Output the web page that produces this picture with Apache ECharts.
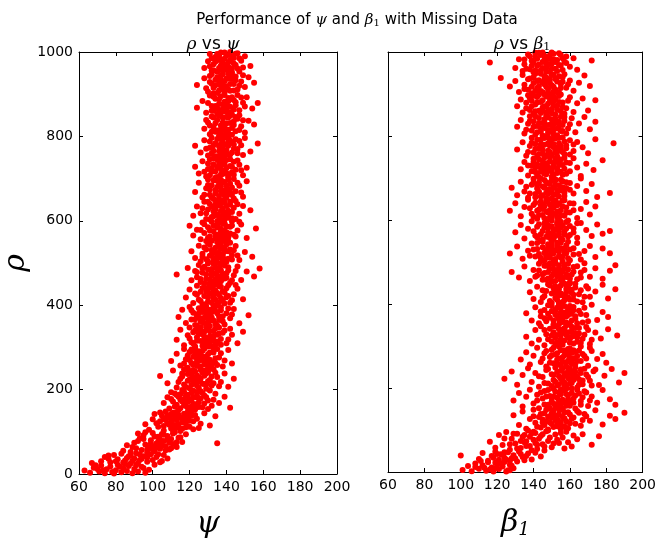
<!DOCTYPE html>
<html>
<head>
<meta charset="utf-8">
<script src="https://cdn.jsdelivr.net/npm/echarts@6/dist/echarts.min.js"></script>
<style>html,body{margin:0;padding:0;background:#fff}#c{width:659px;height:544px}</style>
</head>
<body>
<div id="c"></div>
<script>
// tick labels
var xTicks = [60, 80, 100, 120, 140, 160, 180, 200];
var yTicks = [0, 200, 400, 600, 800, 1000];

// left panel: [psi, rho] — outer spread of the cloud
var psiPoints = [
[63,8],[66,3],[68,15],[71,6],[72,20],[74,2],[75,11],[77,18],[78,5],[80,9],[81,22],[83,4],[84,14],[86,7],[87,19],[89,2],[90,12],[92,6],[94,17],[96,3],[98,10],[70,12],[79,1],[85,24],[91,21],
[72,30],[74,40],[77,28],[79,45],[81,35],[83,48],[84,27],[86,38],[88,44],[89,31],[91,49],[92,26],[94,36],[95,42],[97,29],[99,47],[100,33],[102,40],[104,28],[106,45],[108,37],[85,32],[93,46],[76,36],
[84,55],[86,68],[88,52],[90,74],[91,61],[93,85],[94,57],[95,92],[96,70],[98,63],[99,80],[100,97],[101,54],[102,72],[103,88],[104,60],[105,95],[106,78],[107,66],[108,90],[109,58],[110,83],[111,71],[112,99],[113,64],[115,87],[116,76],[118,94],[97,58],[104,82],[135,73],[92,96],[100,65],
[96,118],[98,105],[100,130],[101,142],[103,112],[104,125],[105,138],[106,103],[107,148],[108,120],[109,133],[110,108],[111,145],[112,116],[113,128],[114,140],[115,102],[116,122],[117,135],[118,111],[119,147],[120,126],[121,138],[122,106],[124,131],[126,119],[128,144],[131,115],[134,137],[109,117],[112,137],[106,131],[114,110],[118,127],
[106,168],[108,182],[109,155],[110,194],[111,172],[112,160],[113,187],[114,151],[115,176],[116,199],[117,163],[118,185],[119,157],[120,178],[121,192],[122,166],[123,153],[124,181],[125,170],[126,196],[127,158],[128,186],[130,174],[132,162],[134,190],[136,168],[139,183],[142,157],[119,171],[115,189],[121,160],[117,177],[124,194],
[104,232],[108,215],[111,245],[113,205],[115,226],[116,238],[117,212],[118,249],[119,221],[120,203],[121,236],[122,217],[123,243],[124,209],[125,229],[126,247],[127,214],[128,233],[129,202],[130,241],[131,223],[132,210],[133,248],[135,230],[137,218],[139,238],[141,207],[144,226],[122,228],[125,219],[127,240],[120,244],[129,212],
[110,268],[113,285],[115,257],[117,296],[118,272],[119,252],[120,289],[121,263],[122,278],[123,299],[124,256],[125,283],[126,270],[127,292],[128,260],[129,277],[130,251],[131,288],[132,265],[133,297],[134,274],[135,258],[137,286],[139,269],[141,294],[143,262],[126,282],[128,266],[124,273],[131,259],[122,293],
[113,318],[115,342],[117,305],[119,329],[120,347],[121,312],[122,336],[123,302],[124,324],[125,344],[126,315],[127,331],[128,308],[129,349],[130,321],[131,338],[132,303],[133,327],[134,345],[135,314],[136,333],[137,306],[139,340],[141,319],[143,330],[146,310],[149,337],[128,326],[131,311],[126,341],[133,317],
[114,372],[116,389],[118,358],[120,396],[121,366],[122,382],[123,353],[124,375],[125,393],[126,361],[127,384],[128,370],[129,398],[130,356],[131,379],[132,390],[133,364],[134,386],[135,352],[136,373],[137,395],[138,362],[140,381],[142,369],[144,391],[147,357],[152,376],[130,368],[132,383],[127,360],[134,397],
[118,418],[120,437],[122,405],[123,428],[124,446],[125,413],[126,432],[127,401],[128,422],[129,441],[130,409],[131,427],[132,448],[133,416],[134,435],[135,403],[136,424],[137,444],[138,411],[139,430],[140,419],[141,447],[142,406],[144,426],[146,439],[149,414],[133,421],[131,442],[136,407],[134,449],
[113,473],[119,488],[121,459],[123,481],[124,466],[125,495],[126,455],[127,477],[128,491],[129,462],[130,484],[131,452],[132,470],[133,498],[134,461],[135,479],[136,489],[137,457],[138,474],[139,494],[140,465],[141,483],[142,453],[144,471],[146,492],[148,460],[151,480],[155,468],[158,487],[135,464],[137,496],[132,486],
[121,528],[123,512],[125,541],[126,504],[127,522],[128,537],[129,509],[130,546],[131,517],[132,531],[133,503],[134,524],[135,549],[136,513],[137,535],[138,506],[139,527],[140,544],[141,510],[142,532],[143,519],[145,540],[147,507],[150,526],[154,515],[136,538],[138,520],[134,508],
[120,588],[122,565],[124,579],[126,556],[127,596],[128,571],[129,552],[130,585],[131,563],[132,598],[133,575],[134,558],[135,590],[136,568],[137,581],[138,553],[139,594],[140,573],[141,561],[142,586],[143,599],[144,567],[146,577],[148,591],[151,559],[156,582],[138,566],[136,595],[140,555],
[122,612],[124,634],[126,618],[128,645],[129,604],[130,627],[131,640],[132,609],[133,622],[134,648],[135,615],[136,636],[137,602],[138,629],[139,643],[140,611],[141,624],[142,638],[143,606],[144,631],[145,647],[147,617],[149,635],[153,625],[139,620],[137,641],[141,607],
[123,668],[125,690],[127,655],[129,677],[130,698],[131,662],[132,684],[133,652],[134,673],[135,695],[136,659],[137,681],[138,666],[139,692],[140,654],[141,675],[142,688],[143,661],[144,699],[145,670],[147,683],[149,657],[151,694],[139,672],[137,697],[141,663],
[123,728],[125,712],[127,741],[129,705],[130,723],[131,746],[132,716],[133,734],[134,702],[135,727],[136,749],[137,710],[138,738],[139,719],[140,744],[141,707],[142,730],[143,715],[144,740],[145,721],[147,733],[149,708],[151,726],[138,747],[140,713],[136,732],
[123,778],[126,762],[128,791],[130,755],[131,773],[132,797],[133,766],[134,784],[135,752],[136,776],[137,794],[138,759],[139,781],[140,768],[141,799],[142,757],[143,786],[144,771],[145,793],[146,760],[148,779],[150,796],[153,764],[157,783],[139,754],[141,789],
[128,818],[130,833],[131,805],[132,847],[133,822],[134,811],[135,839],[136,802],[137,826],[138,844],[139,815],[140,831],[141,807],[142,849],[143,820],[144,836],[145,812],[146,842],[148,824],[150,809],[152,837],[155,828],[139,803],[141,845],
[124,868],[127,884],[129,856],[131,897],[132,872],[133,861],[134,889],[135,853],[136,877],[137,895],[138,865],[139,882],[140,858],[141,891],[142,870],[143,852],[144,886],[145,874],[146,898],[147,862],[149,880],[151,893],[154,866],[157,879],[140,875],[136,862],
[124,922],[128,938],[130,906],[131,929],[132,947],[133,915],[134,934],[135,903],[136,926],[137,944],[138,912],[139,931],[140,919],[141,949],[142,908],[143,936],[144,924],[145,942],[146,911],[148,930],[150,917],[152,940],[155,927],[139,905],[137,933],
[128,962],[130,978],[131,995],[132,956],[133,971],[134,988],[135,953],[136,981],[137,999],[138,965],[139,984],[140,958],[141,976],[142,993],[143,961],[144,986],[145,969],[146,997],[147,954],[148,979],[150,990],[153,967],[138,974],[141,959],[136,992]
];

// left panel: [psi, rho] — dense core of the cloud
var psiCore = [
[67,26],[73,9],[76,44],[82,17],[88,25],[93,33],[95,14],[97,39],[101,22],[103,47],[105,31],[87,42],[80,30],[69,21],[90,37],
[89,64],[92,78],[95,83],[97,51],[99,72],[101,89],[102,62],[103,77],[105,68],[106,93],[107,56],[108,81],[110,61],[111,96],[113,75],[114,86],[96,99],[100,58],[104,70],[109,74],
[102,120],[104,146],[106,114],[107,128],[108,139],[110,124],[111,103],[112,131],[113,147],[114,118],[115,134],[116,107],[117,143],[118,121],[119,136],[120,112],[121,149],[122,125],[123,140],[125,109],[110,142],[113,110],[116,128],
[110,178],[112,191],[113,164],[114,183],[115,156],[116,172],[117,195],[118,161],[119,188],[120,152],[121,174],[122,197],[123,165],[124,186],[125,159],[126,179],[127,192],[128,167],[129,182],[130,154],[131,198],[133,176],[118,169],[122,182],
[114,218],[116,231],[117,248],[118,206],[119,237],[120,224],[121,211],[122,246],[123,219],[124,234],[125,204],[126,226],[127,244],[128,213],[129,238],[130,220],[131,249],[132,231],[133,215],[134,240],[136,208],[124,227],[128,245],
[117,262],[119,281],[120,270],[121,295],[122,258],[123,286],[124,266],[125,291],[126,254],[127,279],[128,297],[129,264],[130,284],[131,271],[132,253],[133,288],[134,263],[135,296],[136,276],[138,255],[128,275],[125,268],
[120,321],[122,309],[123,340],[124,316],[125,332],[126,348],[127,304],[128,337],[129,313],[130,345],[131,326],[132,317],[133,339],[134,307],[135,330],[136,347],[137,320],[138,335],[140,310],[142,344],[130,302],[128,319],
[121,388],[123,367],[124,352],[125,381],[126,369],[127,394],[128,358],[129,377],[130,390],[131,363],[132,371],[133,399],[134,356],[135,381],[136,365],[137,388],[138,374],[139,354],[141,392],[143,378],[131,351],[129,385],
[124,425],[126,410],[127,441],[128,402],[129,432],[130,418],[131,449],[132,406],[133,437],[134,413],[135,429],[136,445],[137,417],[138,433],[139,404],[140,440],[141,422],[143,412],[145,448],[133,429],[130,437],
[124,478],[126,462],[127,487],[128,452],[129,473],[130,499],[131,461],[132,478],[133,456],[134,490],[135,470],[136,457],[137,483],[138,497],[139,463],[140,476],[141,490],[143,459],[145,481],[134,476],[137,468],
[127,515],[129,532],[130,504],[131,543],[132,521],[133,511],[134,536],[135,502],[136,525],[137,546],[138,514],[139,537],[140,503],[141,528],[142,548],[143,508],[144,530],[146,518],[135,518],[139,509],
[126,578],[128,592],[130,560],[131,577],[132,553],[133,588],[134,567],[135,599],[136,558],[137,574],[138,593],[139,562],[140,587],[141,552],[142,570],[143,589],[145,563],[147,598],[139,577],[135,584],
[127,630],[129,618],[130,645],[131,603],[132,633],[133,611],[134,627],[135,643],[136,608],[137,623],[138,648],[139,603],[140,635],[141,616],[142,645],[143,621],[145,604],[146,639],[138,614],[134,638],
[128,662],[130,685],[131,674],[132,656],[133,696],[134,665],[135,680],[136,651],[137,670],[138,691],[139,660],[140,683],[141,697],[142,668],[143,679],[144,653],[146,690],[148,667],[136,686],[140,664],
[128,716],[130,736],[131,708],[132,725],[133,748],[134,717],[135,704],[136,740],[137,722],[138,711],[139,734],[140,725],[141,703],[142,746],[143,728],[144,709],[146,743],[148,720],[137,731],[135,745],
[129,771],[131,788],[132,760],[133,779],[134,753],[135,794],[136,765],[137,782],[138,770],[139,798],[140,757],[141,778],[142,790],[143,762],[144,781],[146,770],[147,789],[149,756],[138,786],[136,752],
[129,839],[131,826],[132,811],[133,845],[134,831],[135,814],[136,849],[137,808],[138,833],[139,822],[140,846],[141,816],[142,832],[143,804],[144,827],[145,846],[147,815],[149,838],[137,817],[140,810],
[130,879],[132,861],[133,894],[134,872],[135,866],[136,888],[137,855],[138,876],[139,898],[140,866],[141,883],[142,857],[143,893],[144,864],[145,881],[147,850],[148,892],[150,871],[139,860],[142,888],
[129,914],[131,943],[132,925],[133,902],[134,921],[135,940],[136,909],[137,920],[138,947],[139,918],[140,937],[141,911],[142,924],[143,946],[144,909],[145,933],[147,920],[149,945],[138,929],[141,937],
[131,966],[132,985],[133,957],[134,977],[135,995],[136,962],[137,983],[138,955],[139,970],[140,992],[141,965],[142,981],[143,952],[144,973],[145,996],[146,961],[147,985],[149,963],[137,968],[142,1000],[139,999]
];

// right panel: [beta1, rho] — outer spread of the cloud
var betaPoints = [
[101,5],[104,14],[106,2],[108,20],[110,8],[112,16],[114,3],[115,23],[117,11],[118,1],[120,18],[121,7],[123,13],[124,24],[126,4],[127,17],[129,9],[119,22],[113,10],[125,1],
[100,39],[110,31],[112,45],[115,27],[117,38],[119,48],[121,29],[122,42],[124,34],[126,47],[127,26],[129,40],[130,32],[132,49],[134,36],[135,28],[137,44],[139,30],[141,46],[144,37],[123,41],[128,33],
[116,72],[119,58],[121,88],[123,64],[125,95],[127,53],[128,79],[130,68],[131,91],[133,57],[134,84],[135,71],[137,99],[138,62],[140,77],[141,93],[142,55],[144,86],[145,66],[147,97],[148,74],[150,59],[152,89],[154,69],[156,82],[158,96],[161,61],[164,78],[167,90],[172,65],[176,85],[139,92],[146,51],
[129,135],[132,112],[134,144],[136,103],[138,126],[140,148],[141,117],[143,131],[144,106],[146,140],[147,121],[148,101],[149,133],[150,114],[151,146],[152,124],[153,109],[154,137],[155,119],[156,149],[157,128],[158,105],[159,142],[160,116],[162,130],[164,145],[166,110],[168,138],[171,122],[174,147],[178,113],[182,134],[185,126],[190,141],[150,129],[155,102],[145,118],
[129,170],[132,188],[134,156],[136,179],[138,196],[140,163],[142,184],[143,152],[145,175],[146,193],[148,160],[149,181],[150,168],[151,198],[152,155],[153,177],[154,189],[155,162],[156,172],[157,194],[158,158],[159,183],[160,166],[161,199],[162,175],[163,151],[165,187],[166,169],[168,192],[170,157],[172,180],[175,165],[178,195],[182,173],[185,160],[158,186],[154,165],
[124,222],[128,239],[131,208],[134,231],[137,247],[139,214],[141,236],[143,203],[145,226],[147,243],[148,211],[150,233],[151,219],[152,249],[153,206],[154,228],[155,241],[156,216],[157,235],[158,204],[159,224],[160,246],[161,212],[162,230],[163,238],[164,201],[165,221],[166,244],[167,209],[169,232],[171,217],[173,240],[176,207],[179,229],[183,245],[187,213],[190,236],[160,220],[157,213],
[133,268],[136,285],[138,256],[140,277],[142,296],[144,262],[146,283],[147,251],[149,274],[150,291],[151,259],[152,280],[153,267],[154,298],[155,254],[156,273],[157,289],[158,261],[159,279],[160,294],[161,257],[162,271],[163,286],[164,264],[166,299],[168,276],[170,253],[172,288],[175,269],[178,281],[180,260],[159,265],[161,284],
[136,322],[139,306],[141,338],[143,315],[144,347],[146,302],[147,328],[149,341],[150,311],[151,333],[152,319],[153,346],[154,304],[155,327],[156,339],[157,313],[158,349],[159,321],[160,308],[161,335],[162,324],[163,343],[164,310],[165,330],[167,317],[169,345],[171,305],[174,332],[177,318],[181,340],[186,325],[157,331],[153,308],
[136,378],[139,361],[141,392],[143,354],[144,371],[146,386],[147,359],[148,397],[149,367],[150,383],[151,352],[152,375],[153,391],[154,363],[155,380],[156,357],[157,395],[158,370],[159,388],[160,351],[161,377],[162,393],[163,365],[165,384],[167,356],[169,374],[172,398],[175,362],[178,381],[181,369],[156,372],[152,386],
[138,428],[140,412],[142,441],[144,405],[145,433],[146,419],[148,447],[149,407],[150,425],[151,438],[152,414],[153,431],[154,403],[155,444],[156,421],[157,409],[158,436],[159,416],[160,449],[161,427],[162,411],[163,439],[165,423],[167,404],[169,442],[171,417],[174,430],[178,446],[181,413],[185,435],[154,420],[158,445],
[128,476],[132,463],[135,489],[138,455],[140,481],[142,468],[143,496],[145,458],[146,474],[147,491],[148,461],[149,484],[150,453],[151,472],[152,499],[153,466],[154,486],[155,457],[156,478],[157,493],[158,464],[159,482],[160,451],[161,470],[162,488],[164,459],[166,475],[168,497],[171,465],[174,485],[178,460],[182,479],[185,492],[152,480],[156,462],
[127,520],[131,537],[134,508],[137,527],[139,544],[141,513],[142,531],[144,502],[145,548],[146,522],[147,510],[148,535],[149,517],[150,541],[151,505],[152,528],[153,546],[154,514],[155,533],[156,501],[157,523],[158,540],[159,509],[160,530],[162,518],[164,545],[166,506],[168,526],[171,538],[174,512],[178,532],[182,521],[150,525],[155,511],
[130,571],[133,588],[135,556],[137,579],[139,597],[141,563],[142,584],[144,552],[145,574],[146,592],[147,560],[148,581],[149,568],[150,599],[151,555],[152,577],[153,590],[154,565],[155,583],[156,553],[157,573],[158,595],[159,561],[160,586],[162,570],[164,558],[166,593],[169,576],[172,562],[175,589],[178,567],[182,574],[151,566],[155,596],
[127,622],[130,640],[133,609],[135,631],[137,648],[139,615],[140,636],[142,603],[143,625],[144,644],[145,612],[146,633],[147,620],[148,647],[149,606],[150,628],[151,641],[152,614],[153,635],[154,601],[155,623],[156,646],[157,610],[158,630],[160,618],[162,639],[164,605],[166,626],[169,643],[171,613],[174,632],[150,617],[145,637],
[128,677],[131,659],[133,691],[135,668],[137,653],[139,684],[140,698],[141,662],[142,675],[143,689],[144,656],[145,680],[146,695],[147,665],[148,672],[149,687],[150,651],[151,678],[152,697],[153,661],[154,683],[155,670],[156,692],[157,657],[158,676],[160,688],[162,663],[164,681],[166,699],[169,669],[172,686],[175,655],[182,664],[150,666],[147,690],
[133,721],[135,738],[137,706],[139,729],[140,746],[141,714],[142,733],[143,702],[144,724],[145,741],[146,710],[147,735],[148,718],[149,749],[150,703],[151,727],[152,740],[153,712],[154,731],[155,744],[156,708],[157,722],[158,737],[160,716],[162,747],[164,725],[166,705],[169,734],[173,719],[178,742],[150,715],[146,728],
[131,768],[134,785],[136,753],[138,776],[139,796],[140,761],[141,781],[142,752],[143,771],[144,791],[145,758],[146,779],[147,799],[148,765],[149,787],[150,755],[151,774],[152,794],[153,762],[154,782],[155,770],[156,797],[157,757],[158,778],[160,790],[162,764],[164,786],[167,773],[170,759],[174,792],[184,783],[149,777],[152,760],
[131,822],[133,838],[135,806],[137,829],[138,847],[139,813],[140,835],[141,803],[142,824],[143,843],[144,811],[145,831],[146,819],[147,849],[148,807],[149,827],[150,840],[151,815],[152,833],[153,802],[154,823],[155,846],[156,812],[157,836],[159,818],[161,842],[163,809],[165,830],[168,845],[171,816],[174,834],[148,814],[151,828],
[131,871],[133,887],[134,856],[136,879],[137,897],[138,862],[139,884],[140,853],[141,875],[142,893],[143,860],[144,881],[145,868],[146,899],[147,855],[148,877],[149,890],[150,864],[151,883],[152,852],[153,872],[154,895],[155,859],[156,880],[158,866],[160,892],[162,857],[164,878],[167,889],[170,861],[174,885],[147,870],[150,896],
[122,938],[127,918],[130,931],[132,905],[134,945],[135,922],[137,910],[138,937],[139,902],[140,926],[141,948],[142,914],[143,933],[144,907],[145,928],[146,942],[147,917],[148,904],[149,935],[150,921],[151,946],[152,911],[153,930],[154,903],[155,924],[156,940],[158,915],[160,932],[162,908],[165,927],[168,944],[171,919],[146,934],[151,906],
[116,975],[130,962],[132,983],[134,955],[135,971],[137,994],[138,959],[139,979],[140,952],[141,988],[142,967],[143,998],[144,956],[145,976],[146,991],[147,963],[148,984],[149,953],[150,972],[151,996],[152,960],[153,981],[154,969],[155,993],[156,957],[157,977],[158,989],[160,965],[162,985],[164,958],[172,980],[147,974],[150,999]
];

// right panel: [beta1, rho] — dense core of the cloud
var betaCore = [
[108,12],[111,26],[116,6],[118,34],[120,43],[122,21],[125,30],[128,15],[131,25],[133,43],[119,9],[124,47],[136,38],[127,4],
[124,80],[127,66],[129,91],[131,56],[133,74],[135,88],[136,62],[138,84],[139,52],[140,96],[141,69],[143,79],[145,90],[146,61],[148,99],[149,82],[151,68],[153,77],[155,93],[157,56],[159,71],[162,87],[136,73],[142,65],
[140,133],[142,108],[144,138],[145,125],[146,112],[147,148],[148,131],[149,118],[150,140],[151,107],[152,135],[153,126],[154,149],[155,111],[156,131],[157,142],[158,121],[159,104],[160,137],[161,127],[163,115],[165,141],[167,124],[169,133],[153,117],[157,109],
[142,170],[144,189],[146,161],[147,180],[148,195],[149,152],[150,176],[151,163],[152,191],[153,158],[154,171],[155,185],[156,152],[157,166],[158,198],[159,174],[160,158],[161,188],[162,165],[163,182],[164,196],[166,160],[167,178],[169,189],[171,170],[155,196],[151,180],
[143,228],[146,212],[148,245],[150,205],[151,231],[152,215],[153,238],[154,209],[155,222],[156,247],[157,204],[158,231],[159,240],[160,211],[161,233],[162,219],[163,249],[164,227],[165,208],[166,236],[167,218],[168,246],[170,226],[172,206],[174,244],[162,240],[156,225],
[145,270],[147,288],[149,260],[150,278],[151,296],[152,257],[153,283],[154,270],[155,290],[156,262],[157,278],[158,251],[159,293],[160,272],[161,266],[162,290],[163,257],[164,276],[165,289],[166,264],[167,281],[169,270],[171,296],[158,285],[154,256],
[146,338],[148,316],[150,325],[151,347],[152,305],[153,326],[154,340],[155,316],[156,303],[157,342],[158,326],[159,333],[160,317],[161,346],[162,306],[163,330],[164,320],[165,343],[166,308],[168,327],[170,338],[172,315],[155,332],[161,322],
[144,382],[146,366],[148,377],[150,395],[151,361],[152,384],[153,371],[154,352],[155,391],[156,366],[157,380],[158,356],[159,374],[160,395],[161,361],[162,385],[163,371],[164,354],[166,376],[168,391],[170,359],[159,383],[154,398],
[145,415],[147,431],[149,444],[150,403],[151,427],[152,442],[153,410],[154,436],[155,425],[156,405],[157,449],[158,428],[159,440],[160,410],[161,434],[162,422],[163,448],[164,406],[166,433],[168,417],[170,437],[157,418],[152,427],
[141,465],[143,480],[145,470],[146,491],[147,458],[148,476],[149,497],[150,466],[151,483],[152,455],[153,477],[154,492],[155,468],[156,452],[157,484],[158,471],[159,496],[160,461],[162,477],[164,490],[166,463],[168,481],[151,494],[155,479],
[138,515],[140,530],[142,545],[143,519],[144,510],[145,535],[146,503],[147,527],[148,542],[149,511],[150,534],[151,520],[152,507],[153,538],[154,525],[155,546],[156,513],[157,532],[158,521],[159,548],[160,504],[162,533],[165,519],[150,548],[147,516],
[140,573],[142,559],[143,590],[144,566],[145,553],[146,582],[147,597],[148,570],[149,557],[150,585],[151,578],[152,562],[153,594],[154,572],[155,556],[156,587],[157,566],[158,580],[159,599],[160,564],[162,580],[164,592],[148,588],[153,579],
[138,628],[140,608],[141,641],[142,622],[143,612],[144,635],[145,626],[146,604],[147,644],[148,618],[149,637],[150,608],[151,629],[152,647],[153,620],[154,640],[155,611],[156,632],[157,647],[158,618],[160,640],[162,623],[149,624],[153,606],
[136,679],[138,663],[140,690],[141,654],[142,683],[143,667],[144,699],[145,659],[146,677],[147,651],[148,687],[149,674],[150,694],[151,660],[152,683],[153,671],[154,656],[155,696],[156,678],[157,665],[158,690],[160,672],[148,662],[152,694],
[137,730],[139,716],[140,738],[141,725],[142,706],[143,744],[144,715],[145,732],[146,749],[147,709],[148,727],[149,739],[150,720],[151,708],[152,746],[153,722],[154,737],[155,715],[156,731],[157,748],[158,710],[160,736],[146,719],[151,736],
[137,762],[139,784],[141,769],[142,791],[143,757],[144,780],[145,767],[146,795],[147,754],[148,783],[149,762],[150,793],[151,781],[152,767],[153,752],[154,795],[155,776],[156,762],[157,787],[158,771],[160,756],[162,780],[148,797],[153,772],
[136,815],[138,836],[140,822],[141,847],[142,809],[143,831],[144,819],[145,801],[146,840],[147,826],[148,844],[149,813],[150,829],[151,804],[152,842],[153,818],[154,834],[155,812],[156,826],[157,845],[158,806],[160,828],[150,815],[146,832],
[136,866],[138,890],[139,871],[140,896],[141,859],[142,880],[143,898],[144,855],[145,885],[146,871],[147,894],[148,861],[149,882],[150,854],[151,872],[152,888],[153,863],[154,881],[155,899],[156,869],[157,853],[159,884],[145,860],[151,894],
[135,912],[137,935],[139,917],[140,940],[141,907],[142,931],[143,919],[144,948],[145,904],[146,923],[147,939],[148,912],[149,927],[150,945],[151,917],[152,936],[153,904],[154,942],[155,914],[156,929],[157,947],[159,923],[148,932],[143,905],
[135,982],[136,960],[138,990],[139,967],[140,975],[141,956],[142,984],[143,970],[144,993],[145,962],[146,981],[147,953],[148,970],[149,992],[150,960],[151,983],[152,976],[153,955],[154,997],[155,968],[156,985],[158,974],[145,999],[150,981],[141,998]
];

var FONT = 'DejaVu Sans';
var SERIF = 'DejaVu Serif';
var chart = echarts.init(document.getElementById('c'), null, {renderer: 'canvas'});

function plain(v) { return String(v); }

function xAx(grid, pos, show, name) {
  return {
    type: 'value', gridIndex: grid, position: pos, min: xTicks[0], max: xTicks[xTicks.length - 1], interval: 20,
    splitLine: {show: false},
    axisLine: {show: true, onZero: false, lineStyle: {color: '#000', width: 1}},
    axisTick: {show: true, inside: true, length: 4, lineStyle: {color: '#000'}},
    axisLabel: {show: show, color: '#000', fontSize: 14, fontFamily: FONT, margin: 6, formatter: plain},
    name: name || '', nameLocation: 'middle', nameGap: 35,
    nameTextStyle: {fontSize: 30, fontStyle: 'italic', fontFamily: SERIF, color: '#000'}
  };
}
function yAx(grid, pos, show, name) {
  return {
    type: 'value', gridIndex: grid, position: pos, min: yTicks[0], max: yTicks[yTicks.length - 1], interval: 200,
    splitLine: {show: false},
    axisLine: {show: true, onZero: false, lineStyle: {color: '#000', width: 1}},
    axisTick: {show: true, inside: true, length: 4, lineStyle: {color: '#000'}},
    axisLabel: {show: show, color: '#000', fontSize: 14, fontFamily: FONT, margin: 6, formatter: plain},
    name: name || '', nameLocation: 'middle', nameGap: 48,
    nameTextStyle: {fontSize: 30, fontStyle: 'italic', fontFamily: SERIF, color: '#000'}
  };
}

var option = {
  animation: false,
  backgroundColor: '#fff',
  title: [
    {text: 'Performance of {m|ψ} and {m|β}{s|1} with Missing Data', left: 352, top: 7, textAlign: 'center',
     textStyle: {fontSize: 15, fontWeight: 'normal', fontFamily: FONT, color: '#000',
       rich: {m: {fontSize: 15, fontStyle: 'italic', fontFamily: SERIF}, s: {fontSize: 10, fontFamily: SERIF, padding: [6, 0, 0, 0]}}}},
    {text: '{m|ρ} vs {m|ψ}', left: 208, top: 31, textAlign: 'center',
     textStyle: {fontSize: 17, fontWeight: 'normal', fontFamily: FONT, color: '#000',
       rich: {m: {fontSize: 17, fontStyle: 'italic', fontFamily: SERIF}}}},
    {text: '{m|ρ} vs {m|β}{s|1}', left: 517, top: 31, textAlign: 'center',
     textStyle: {fontSize: 17, fontWeight: 'normal', fontFamily: FONT, color: '#000',
       rich: {m: {fontSize: 17, fontStyle: 'italic', fontFamily: SERIF}, s: {fontSize: 11, fontFamily: SERIF, padding: [6, 0, 0, 0]}}}}
  ],
  grid: [
    {left: 79, top: 52, width: 258, height: 437, show: false},
    {left: 388, top: 52, width: 258, height: 437, show: false}
  ],
  xAxis: [
    xAx(0, 'bottom', true, 'ψ'),
    xAx(1, 'bottom', true, '{a|β}{s|1}'),
    xAx(0, 'top', false),
    xAx(1, 'top', false)
  ],
  yAxis: [
    yAx(0, 'left', true, 'ρ'),
    yAx(1, 'left', false),
    yAx(0, 'right', false),
    yAx(1, 'right', false)
  ],
  series: [
    {type: 'scatter', xAxisIndex: 0, yAxisIndex: 0, data: psiPoints.concat(psiCore), symbolSize: 6,
     itemStyle: {color: '#ff0000', opacity: 1}, clip: true},
    {type: 'scatter', xAxisIndex: 1, yAxisIndex: 1, data: betaPoints.concat(betaCore), symbolSize: 6,
     itemStyle: {color: '#ff0000', opacity: 1}, clip: true}
  ]
};
option.xAxis[1].nameTextStyle.rich = {a: {fontSize: 30, fontStyle: 'italic', fontFamily: SERIF}, s: {fontSize: 18, fontFamily: SERIF, padding: [14, 0, 0, 0]}};
chart.setOption(option);
</script>
</body>
</html>
